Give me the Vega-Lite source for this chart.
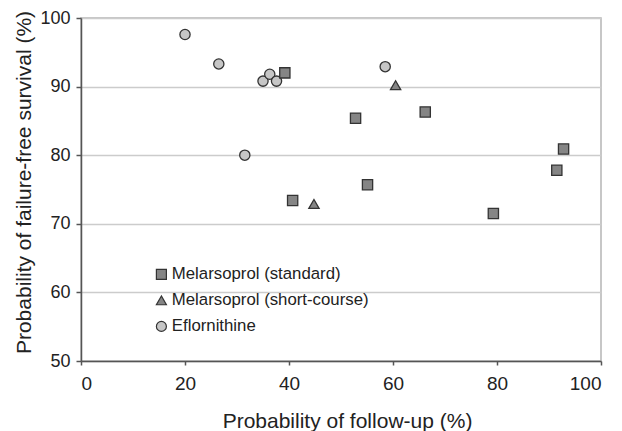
{
  "$schema": "https://vega.github.io/schema/vega-lite/v6.json",
  "width": 520,
  "height": 343,
  "autosize": {"type": "none"},
  "padding": {"left": 81, "top": 18, "right": 21, "bottom": 70},
  "background": "white",
  "config": {
    "font": "Liberation Sans",
    "view": {"stroke": "#b5b5b5", "strokeWidth": 1.5}
  },
  "data": {
    "values": [
      {"x": 20.0, "y": 97.6, "group": "Eflornithine"},
      {"x": 26.5, "y": 93.3, "group": "Eflornithine"},
      {"x": 35.0, "y": 90.8, "group": "Eflornithine"},
      {"x": 36.3, "y": 91.8, "group": "Eflornithine"},
      {"x": 37.6, "y": 90.8, "group": "Eflornithine"},
      {"x": 31.5, "y": 80.0, "group": "Eflornithine"},
      {"x": 58.5, "y": 92.9, "group": "Eflornithine"},
      {"x": 39.2, "y": 92.0, "group": "Melarsoprol (standard)"},
      {"x": 40.7, "y": 73.4, "group": "Melarsoprol (standard)"},
      {"x": 52.8, "y": 85.4, "group": "Melarsoprol (standard)"},
      {"x": 66.2, "y": 86.3, "group": "Melarsoprol (standard)"},
      {"x": 92.8, "y": 80.9, "group": "Melarsoprol (standard)"},
      {"x": 91.5, "y": 77.8, "group": "Melarsoprol (standard)"},
      {"x": 55.1, "y": 75.7, "group": "Melarsoprol (standard)"},
      {"x": 79.3, "y": 71.5, "group": "Melarsoprol (standard)"},
      {"x": 60.5, "y": 90.2, "group": "Melarsoprol (short-course)"},
      {"x": 44.8, "y": 72.9, "group": "Melarsoprol (short-course)"}
    ]
  },
  "mark": {"type": "point", "filled": true, "size": 105, "stroke": "#333333", "strokeWidth": 1.3, "opacity": 1},
  "encoding": {
    "x": {
      "field": "x", "type": "quantitative",
      "scale": {"domain": [0, 100]},
      "axis": {
        "title": "Probability of follow-up (%)",
        "values": [0, 20, 40, 60, 80, 100],
        "grid": false,
        "domainColor": "#555555", "domainWidth": 1.5,
        "tickColor": "#555555", "tickWidth": 1.5, "tickSize": 4,
        "labelFontSize": 19, "labelColor": "#222222", "labelPadding": 9,
        "titleFontSize": 21, "titleFontWeight": "normal", "titleColor": "#222222",
        "titleX": 266, "titleY": 66, "titleBaseline": "alphabetic", "titleAlign": "center"
      }
    },
    "y": {
      "field": "y", "type": "quantitative",
      "scale": {"domain": [50, 100]},
      "axis": {
        "title": "Probability of failure-free survival (%)",
        "values": [50, 60, 70, 80, 90, 100],
        "grid": true, "gridColor": "#cccccc", "gridWidth": 1.3,
        "domainColor": "#555555", "domainWidth": 1.5,
        "tickColor": "#555555", "tickWidth": 1.5, "tickSize": 5,
        "labelFontSize": 18, "labelColor": "#222222", "labelPadding": 6,
        "titleFontSize": 21, "titleFontWeight": "normal", "titleColor": "#222222",
        "titleX": -51, "titleY": 164, "titleBaseline": "alphabetic", "titleAlign": "center", "titleAngle": 270
      }
    },
    "shape": {
      "field": "group", "type": "nominal",
      "scale": {"domain": ["Melarsoprol (standard)", "Melarsoprol (short-course)", "Eflornithine"], "range": ["square", "triangle-up", "circle"]},
      "legend": {
        "title": null, "orient": "none", "legendX": 72, "legendY": 248,
        "labelFontSize": 16.8, "labelColor": "#222222", "labelLimit": 0, "rowPadding": 8, "symbolSize": 100,
        "symbolStrokeColor": "#333333", "symbolStrokeWidth": 1.2, "labelOffset": 2
      }
    },
    "color": {
      "field": "group", "type": "nominal",
      "scale": {"domain": ["Melarsoprol (standard)", "Melarsoprol (short-course)", "Eflornithine"], "range": ["#858585", "#858585", "#c6c6c6"]},
      "legend": {
        "title": null, "orient": "none", "legendX": 72, "legendY": 248,
        "labelFontSize": 16.8, "labelColor": "#222222", "labelLimit": 0, "rowPadding": 8, "symbolSize": 100,
        "symbolStrokeColor": "#333333", "symbolStrokeWidth": 1.2, "labelOffset": 2
      }
    }
  }
}
